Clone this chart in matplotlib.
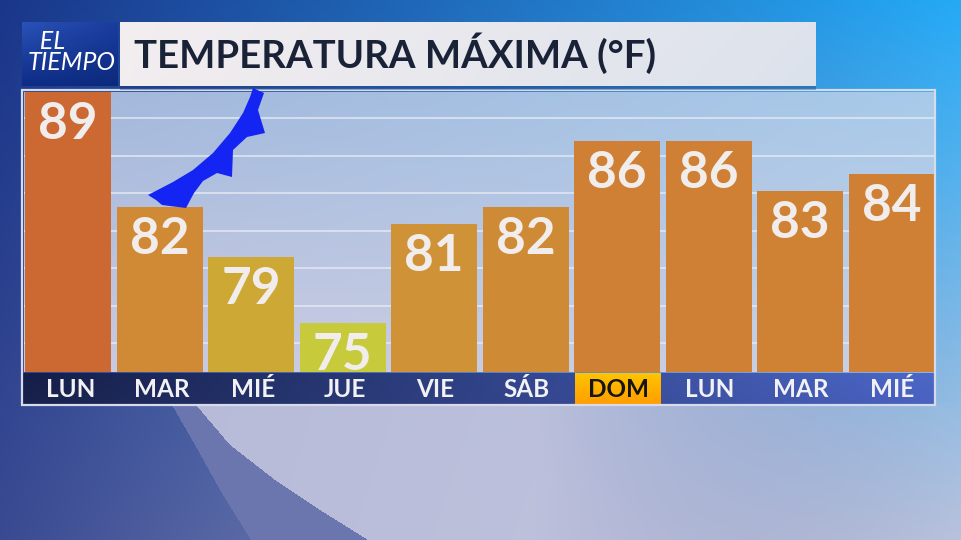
import numpy as np
import matplotlib
matplotlib.use("Agg")
import matplotlib.pyplot as plt
from matplotlib.patches import Rectangle, Polygon
from matplotlib.colors import to_rgb

TITLE = "TEMPERATURA MÁXIMA (°F)"
DAYS = ["LUN", "MAR", "MIÉ", "JUE", "VIE", "SÁB", "DOM", "LUN", "MAR", "MIÉ"]
TEMPS = [89, 82, 79, 75, 81, 82, 86, 86, 83, 84]
BAR_COLORS = ["#CC6832", "#D08A36", "#CDA834", "#C7CA3A", "#D09237",
              "#CF8A36", "#CF8034", "#CF8034", "#CF8234", "#CF8034"]
HIGHLIGHT_DAY = 6
Y_MIN, Y_MAX = 72, 89
GRID_Y = [87.42, 85.14, 82.86, 80.58, 78.30, 76.02, 73.74]

# cold front drawn on top of the panel (pixel coords of the picture)
FRONT = [(148, 195), (173, 182), (193, 170), (213, 153), (230, 133), (243, 113),
         (250, 97), (253, 88), (264, 93), (258, 110), (265, 133), (247, 137),
         (233, 150), (232, 177), (217, 173), (203, 181), (194, 193), (186, 208),
         (162, 205), (156, 200)]

# background swoosh edges below the panel (pixel coords: y, x)
DARK_Y, DARK_X = [405, 445, 490, 540], [172, 195, 220, 251]
LIGHT_Y, LIGHT_X = [405, 445, 480, 510, 540], [196, 230, 275, 320, 368]

W, H = 961, 540
FONT = ["Lato", "DejaVu Sans"]


def grad2(tl, tr, bl, br, n=64, m=None):
    m = m or n
    tl, tr, bl, br = [np.array(to_rgb(c)) for c in (tl, tr, bl, br)]
    u = np.linspace(0, 1, n)[None, :, None]
    v = np.linspace(0, 1, m)[:, None, None]
    top = tl * (1 - u) + tr * u
    bot = bl * (1 - u) + br * u
    return top * (1 - v) + bot * v


def px_axes(fig, x0, y0, x1, y1, **kw):
    return fig.add_axes([x0 / W, 1 - y1 / H, (x1 - x0) / W, (y1 - y0) / H], **kw)


# background picture built pixel by pixel
img = grad2("#1A368A", "#25AAF6", "#3A4A92", "#B8C2DC", n=W, m=H)
yy, xx = np.mgrid[0:H, 0:W] + 0.5
below = yy >= 403
dark_x = np.interp(yy, DARK_Y, DARK_X)
light_x = np.interp(yy, LIGHT_Y, LIGHT_X)
a = 0.9 * np.clip((985 - xx) / 450, 0, 1) * ((xx > light_x) & below)
img = img * (1 - a[..., None]) + np.array(to_rgb("#C4C6DF")) * a[..., None]
band = (xx > dark_x) & (xx <= light_x) & below
img[band] = to_rgb("#6B76AE")

fig = plt.figure(figsize=(W / 100, H / 100), dpi=100)

bg = px_axes(fig, 0, 0, W, H, zorder=0)
bg.imshow(img, extent=(0, W, H, 0), aspect="auto", interpolation="none")
bg.set_xlim(0, W)
bg.set_ylim(H, 0)
bg.axis("off")

# ---- bars
x = np.arange(len(TEMPS))
ax = px_axes(fig, 24, 92, 935, 372, zorder=1)
ax.imshow(grad2("#A3B7DB", "#A8CAEA", "#CAC9E1", "#C8D0E4"),
          extent=(0, 1, 0, 1), transform=ax.transAxes, aspect="auto",
          interpolation="bicubic", zorder=0)
for g in GRID_Y:
    ax.axhline(g, color="#E8ECF6", lw=1.1, alpha=0.9, zorder=1)
ax.bar(x, np.array(TEMPS) - Y_MIN, bottom=Y_MIN, width=0.94,
       color=BAR_COLORS, zorder=2)
for i, t in enumerate(TEMPS):
    ax.text(i, t - 2.85, str(t), ha="center", va="baseline", fontsize=37,
            fontweight="bold", family=FONT, color="#F1EDEC", zorder=3)
ax.set_xlim(-0.481, 9.475)
ax.set_ylim(Y_MIN, Y_MAX)
ax.axis("off")

# ---- day strip
sx = px_axes(fig, 23, 373, 935, 404, zorder=1)
sx.imshow(grad2("#141E48", "#4C67C8", "#18224C", "#4A62C0"),
          extent=(-0.53, 9.48, 0, 1), aspect="auto", interpolation="bicubic")
sx.imshow(grad2("#FFC400", "#FFC400", "#FF9E00", "#FF9E00"),
          extent=(HIGHLIGHT_DAY - 0.47, HIGHLIGHT_DAY + 0.47, 0, 1),
          aspect="auto", interpolation="bicubic")
for i, d in enumerate(DAYS):
    sx.text(i, 0.47, d, ha="center", va="center", fontsize=17.5, fontweight="bold",
            family=FONT, color="#151515" if i == HIGHLIGHT_DAY else "#F2F2F4")
sx.set_xlim(-0.525, 9.475)
sx.set_ylim(0, 1)
sx.axis("off")

# ---- overlay: title, logo, front, border
ov = px_axes(fig, 0, 0, W, H, zorder=3)
ov.patch.set_visible(False)
ov.add_patch(Rectangle((22, 90), 913, 315, fill=False, ec="#D6DAEA", lw=1.6))
ov.add_patch(Rectangle((120, 86), 696, 4, color="#12306E", alpha=0.35, lw=0))
ov.imshow(grad2("#F3EEF0", "#DEE3EC", "#F2EDEF", "#DCE2EC"),
          extent=(120, 816, 86, 22), aspect="auto", interpolation="bicubic")
ov.imshow(grad2("#2A52B8", "#1A3C9E", "#0E2C86", "#0C2A7C"),
          extent=(22, 118, 86, 22), aspect="auto", interpolation="bicubic")
ov.text(134, 68, TITLE, fontsize=27.6, fontweight="bold", family=FONT,
        color="#1A2238", va="baseline", ha="left")
ov.text(28, 70, "  EL\nTIEMPO", fontsize=18, style="italic", family=FONT,
        color="white", va="baseline", ha="left", linespacing=0.92)
ov.add_patch(Polygon(FRONT, closed=True, color="#1424F2", lw=0))
ov.set_xlim(0, W)
ov.set_ylim(H, 0)
ov.axis("off")

fig.savefig("out.png", dpi=100)
